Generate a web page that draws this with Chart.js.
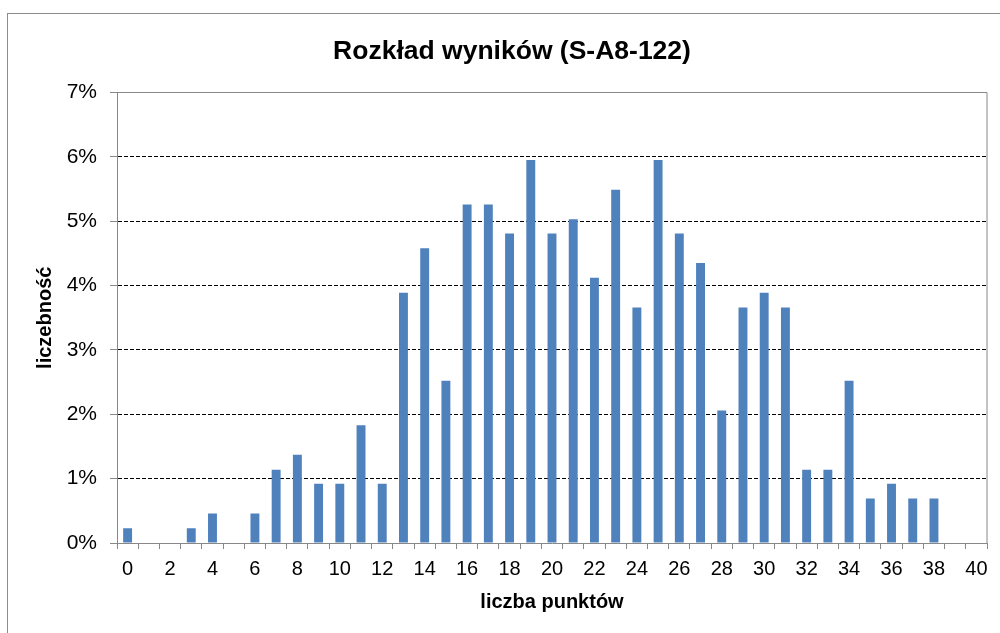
<!DOCTYPE html>
<html>
<head>
<meta charset="utf-8">
<script src="https://cdn.jsdelivr.net/npm/chart.js@4/dist/chart.umd.min.js"></script>
<style>
  html, body { margin: 0; padding: 0; background: #fff; overflow: hidden; }
  #clip { width: 1000px; height: 633px; overflow: hidden; position: relative; }
  #wrap { width: 1024px; height: 633px; position: absolute; left: 0; top: 0; }
</style>
</head>
<body>
<div id="clip"><div id="wrap"><canvas id="chart" width="1024" height="633"></canvas></div></div>
<script>
  // Score distribution (share of students per score)
  const scores = ['0', '1', '2', '3', '4', '5', '6', '7', '8', '9', '10',
    '11', '12', '13', '14', '15', '16', '17', '18', '19', '20',
    '21', '22', '23', '24', '25', '26', '27', '28', '29', '30',
    '31', '32', '33', '34', '35', '36', '37', '38', '39', '40'];
  const shares = [0.23, 0, 0, 0.23, 0.46, 0, 0.46, 1.14, 1.37, 0.92, 0.92,
    1.83, 0.92, 3.89, 4.58, 2.52, 5.26, 5.26, 4.81, 5.95, 4.81,
    5.03, 4.12, 5.49, 3.66, 5.95, 4.81, 4.35, 2.06, 3.66, 3.89,
    3.66, 1.14, 1.14, 2.52, 0.69, 0.92, 0.69, 0.69, 0, 0];
  const yTicks = [0, 1, 2, 3, 4, 5, 6, 7];

  Chart.defaults.font.family = '"Liberation Sans", Arial, sans-serif';
  Chart.defaults.color = '#000';

  // outer chart frame + plot frame (top/right sides)
  const frames = {
    id: 'frames',
    beforeDraw(chart) {
      let ctx = chart.ctx;
      ctx.save();
      ctx.fillStyle = '#fff';
      ctx.fillRect(0, 0, chart.width, chart.height);
      ctx.strokeStyle = '#8c8c8c';
      ctx.lineWidth = 1;
      ctx.strokeRect(7.5, 13.5, 1009, 660);
      ctx.restore();
    },
    afterDraw(chart) {
      let a = chart.chartArea, ctx = chart.ctx;
      ctx.save();
      ctx.strokeStyle = '#888';
      ctx.lineWidth = 1;
      ctx.beginPath();
      ctx.moveTo(a.left, a.top);
      ctx.lineTo(a.right, a.top);
      ctx.lineTo(a.right, a.bottom);
      ctx.stroke();
      ctx.restore();
    }
  };

  new Chart(document.getElementById('chart').getContext('2d'), {
    type: 'bar',
    data: {
      labels: scores,
      datasets: [{
        data: shares,
        backgroundColor: '#4f81bd',
        borderWidth: 0,
        barPercentage: 0.42,
        categoryPercentage: 1
      }]
    },
    plugins: [frames],
    options: {
      responsive: false,
      devicePixelRatio: 1,
      animation: false,
      layout: { padding: { left: 37, right: 37, top: 0, bottom: 0 } },
      plugins: {
        legend: { display: false },
        tooltip: { enabled: false },
        title: {
          display: true,
          text: 'Rozkład wyników (S-A8-122)',
          font: { size: 26.5, weight: 'bold' },
          color: '#000',
          padding: { top: 36, bottom: 24.7 }
        }
      },
      scales: {
        x: {
          grid: { display: true, drawOnChartArea: false, tickLength: 6, tickColor: '#888', offset: true },
          border: { color: '#888', width: 1 },
          ticks: {
            autoSkip: false,
            maxRotation: 0,
            padding: 8,
            font: { size: 20 },
            callback: (v, i) => i % 2 === 0 ? scores[i] : ''
          },
          title: {
            display: true,
            text: 'liczba punktów',
            font: { size: 20, weight: 'bold' },
            padding: { top: 0, bottom: 19 }
          },
          afterFit(scale) { scale.height = 90; }
        },
        y: {
          min: yTicks[0],
          max: yTicks[yTicks.length - 1],
          afterBuildTicks(scale) { scale.ticks = yTicks.map(v => ({ value: v })); },
          grid: {
            color: (c) => c.tick && c.tick.value === 0 ? 'rgba(0,0,0,0)' : (c.tick && c.tick.value === 7 ? '#888' : '#000'),
            lineWidth: 1,
            tickLength: 7,
            tickColor: '#888',
            tickBorderDash: []
          },
          border: { color: '#888', width: 1, dash: [4, 2] },
          ticks: {
            padding: 13,
            font: { size: 21 },
            callback: (v) => v + '%'
          },
          title: {
            display: true,
            text: 'liczebność',
            font: { size: 20, weight: 'bold', lineHeight: 0.8 },
            padding: { top: 0, bottom: 0 }
          },
          afterFit(scale) { scale.width = 80; }
        }
      }
    }
  });
</script>
</body>
</html>
